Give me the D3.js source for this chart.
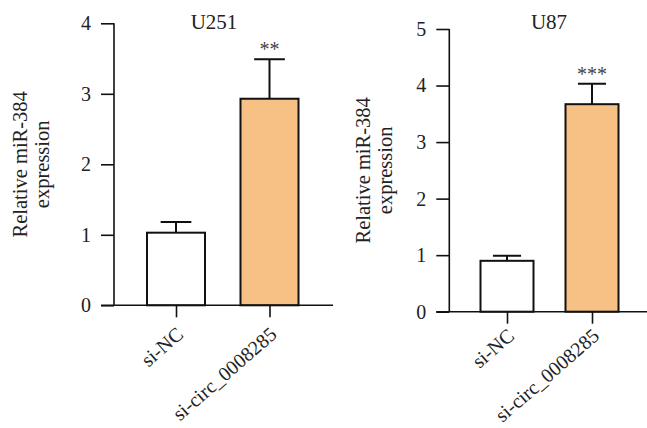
<!DOCTYPE html>
<html>
<head>
<meta charset="utf-8">
<script src="https://cdn.jsdelivr.net/npm/d3@7"></script>
<style>
  body { margin: 0; background: #fff; }
  text { font-family: "Liberation Serif", "Times New Roman", serif; fill: #222; }
</style>
</head>
<body>
<svg id="chart" width="647" height="428"></svg>
<script>
// data
var groups = ["si-NC", "si-circ_0008285"];
var u251Means = [1.03, 2.93];
var u251Upper = [1.18, 3.49];
var u87Means = [0.90, 3.67];
var u87Upper = [0.99, 4.03];
var u251Ticks = [0, 1, 2, 3, 4];
var u87Ticks = [0, 1, 2, 3, 4, 5];
var u251Stars = ["", "**"];
var u87Stars = ["", "***"];

var svg = d3.select("#chart");
var fillColors = ["#ffffff", "#f7c185"];

// layout per panel
var panels = [
    { title: "U251", means: u251Means, upper: u251Upper, ticks: u251Ticks, stars: u251Stars,
      axisX: 114, top: 23.3, bottom: 305.3, xEnd: 333, centers: [176, 269.5], barW: 58,
      titleX: 214, labelX: 27, catDy: 31 },
    { title: "U87", means: u87Means, upper: u87Upper, ticks: u87Ticks, stars: u87Stars,
      axisX: 449.3, top: 29, bottom: 311.7, xEnd: 647, centers: [507, 592], barW: 53,
      titleX: 549, labelX: 370, catDy: 26 }
];

panels.forEach(function(p) {
    var g = svg.append("g");
    var yScale = d3.scaleLinear()
        .domain([0, d3.max(p.ticks)])
        .range([p.bottom, p.top]);
    var xScale = d3.scalePoint()
        .domain(groups)
        .range(p.centers);

    // bars
    g.selectAll(".bar")
        .data(groups)
        .enter().append("rect")
        .attr("class", "bar")
        .attr("x", function(d) { return xScale(d) - p.barW / 2; })
        .attr("width", p.barW)
        .attr("y", function(d, i) { return yScale(p.means[i]); })
        .attr("height", function(d, i) { return yScale(0) - yScale(p.means[i]); })
        .style("fill", function(d, i) { return fillColors[i]; })
        .style("stroke", "#111")
        .style("stroke-width", 2);

    // error bars (upper only)
    var capW = p.barW * 0.53;
    g.selectAll(".err")
        .data(groups)
        .enter().append("path")
        .attr("class", "err")
        .attr("d", function(d, i) {
            var cx = xScale(d);
            var y0 = yScale(p.means[i]);
            var y1 = yScale(p.upper[i]);
            return "M" + cx + "," + y0 + "V" + y1 +
                   "M" + (cx - capW / 2) + "," + y1 + "H" + (cx + capW / 2);
        })
        .style("fill", "none")
        .style("stroke", "#111")
        .style("stroke-width", 2);

    // significance stars
    g.selectAll(".stars")
        .data(groups)
        .enter().append("text")
        .attr("class", "stars")
        .attr("x", function(d) { return xScale(d); })
        .attr("y", function(d, i) { return yScale(p.upper[i]) - 3; })
        .attr("text-anchor", "middle")
        .style("font-size", "20px")
        .style("fill", "#444")
        .text(function(d, i) { return p.stars[i]; });

    // y axis
    var yAxis = g.append("g")
        .attr("transform", "translate(" + p.axisX + ",0)")
        .call(d3.axisLeft(yScale).tickValues(p.ticks).tickFormat(d3.format("d"))
            .tickSize(13).tickPadding(10).tickSizeOuter(0));
    yAxis.select(".domain").attr("stroke", "#111").attr("stroke-width", 1.6)
        .attr("d", "M0," + p.top + "V" + p.bottom);
    yAxis.selectAll(".tick line").attr("stroke", "#111").attr("stroke-width", 1.6);
    yAxis.selectAll(".tick text")
        .style("font-family", "'Liberation Serif', serif")
        .style("font-size", "20px")
        .style("fill", "#222");

    // x axis
    var x0 = p.axisX - 13;
    var xAxis = g.append("g")
        .attr("transform", "translate(0," + p.bottom + ")")
        .call(d3.axisBottom(xScale).tickSize(12).tickPadding(0).tickSizeOuter(0));
    xAxis.select(".domain").attr("stroke", "#111").attr("stroke-width", 1.6)
        .attr("d", "M" + x0 + ",0H" + p.xEnd);
    xAxis.selectAll(".tick line").attr("stroke", "#111").attr("stroke-width", 1.6);
    xAxis.selectAll(".tick text")
        .attr("text-anchor", "end")
        .attr("dy", null)
        .attr("y", 0)
        .attr("transform", "translate(8," + p.catDy + ") rotate(-41)")
        .style("font-family", "'Liberation Serif', serif")
        .style("font-size", "20px")
        .style("fill", "#222");

    // title
    g.append("text")
        .attr("x", p.titleX)
        .attr("y", 28.5)
        .attr("text-anchor", "middle")
        .style("font-size", "21px")
        .text(p.title);

    // y label, two lines
    var midY = (p.top + p.bottom) / 2;
    var yLabel = g.append("text")
        .attr("transform", "translate(" + p.labelX + "," + midY + ") rotate(-90)")
        .attr("text-anchor", "middle")
        .style("font-size", "20.5px");
    yLabel.append("tspan").attr("x", 0).attr("y", 0).text("Relative miR-384");
    yLabel.append("tspan").attr("x", 0).attr("y", 22).text("expression");
});
</script>
</body>
</html>
